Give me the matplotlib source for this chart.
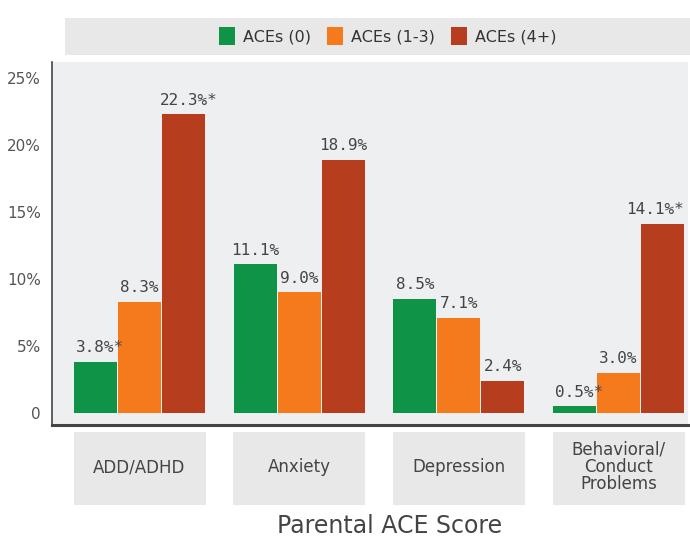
import matplotlib
matplotlib.use("Agg")
import matplotlib.pyplot as plt
from matplotlib.patches import Rectangle
import numpy as np

categories = ["ADD/ADHD", "Anxiety", "Depression", "Behavioral/\nConduct\nProblems"]
series_names = ["ACEs (0)", "ACEs (1-3)", "ACEs (4+)"]
aces_0 = [3.8, 11.1, 8.5, 0.5]
aces_1_3 = [8.3, 9.0, 7.1, 3.0]
aces_4p = [22.3, 18.9, 2.4, 14.1]
labels_0 = ["3.8%*", "11.1%", "8.5%", "0.5%*"]
labels_1_3 = ["8.3%", "9.0%", "7.1%", "3.0%"]
labels_4p = ["22.3%*", "18.9%", "2.4%", "14.1%*"]
yticks = [0, 5, 10, 15, 20, 25]
ytick_labels = ["0", "5%", "10%", "15%", "20%", "25%"]
colors = ["#0f9447", "#f47a1c", "#b73d1f"]

fig = plt.figure(figsize=(6.9, 5.44), dpi=100)
fig.patch.set_facecolor("white")
ax = fig.add_axes([52/690, 1-425/544, 636/690, (425-62)/544])
ax.set_facecolor("#eeeff0")

x = np.arange(len(categories))
w = 0.2755
series = [aces_0, aces_1_3, aces_4p]
labs = [labels_0, labels_1_3, labels_4p]
n = len(categories)
for i, (vals, lab, c, name) in enumerate(zip(series, labs, colors, series_names)):
    pos = x + (i - 1) * w
    ax.bar(pos, vals, width=w*0.98, color=c, label=name, zorder=2)
    for j, (p, v, t) in enumerate(zip(pos, vals, lab)):
        off = 0.03 if t.endswith("*") else 0.0
        if j == n - 1 and i == 2:
            off = -0.045
        ax.text(p + off, v + 0.5, t, ha="center", va="bottom",
                fontsize=11.5, family="DejaVu Sans Mono", color="#444444")

ax.set_xlim(-0.548, 3.435)
ax.set_ylim(-0.9, 26.2)
ax.set_yticks(yticks)
ax.set_yticklabels(ytick_labels, fontsize=11, color="#555555")
ax.set_xticks([])
ax.tick_params(axis="y", length=0, pad=8)
for s in ["top", "right"]:
    ax.spines[s].set_visible(False)
ax.spines["left"].set_color("#444444")
ax.spines["left"].set_linewidth(1.2)
ax.spines["bottom"].set_color("#444444")
ax.spines["bottom"].set_linewidth(2.2)

# category label boxes
for xi, cat in zip(x, categories):
    px = 52 + (xi + 0.548) / (3.435 + 0.548) * 636
    fig.patches.append(Rectangle(((px-66)/690, 1-505/544), 132/690, 73/544,
                                 transform=fig.transFigure, facecolor="#e8e8e9",
                                 edgecolor="none", zorder=0))
    fig.text(px/690, 1-467/544, cat, ha="center", va="center", fontsize=12,
             color="#444444", linespacing=0.95)

fig.text(390/690, 1-526/544, "Parental ACE Score", ha="center", va="center",
         fontsize=17, color="#444444")

# legend band
fig.patches.append(Rectangle((65/690, 1-55/544), 625/690, 37/544,
                             transform=fig.transFigure, facecolor="#e8e8e9",
                             edgecolor="none", zorder=0))
handles, leglabels = ax.get_legend_handles_labels()
fig.legend(handles, leglabels, loc="center", bbox_to_anchor=(388/690, 1-36/544),
           ncol=3, frameon=False, fontsize=11.5, handlelength=1.0, handleheight=1.4,
           handletextpad=0.5, columnspacing=1.0, labelcolor="#333333")

fig.savefig("out.png", dpi=100)
